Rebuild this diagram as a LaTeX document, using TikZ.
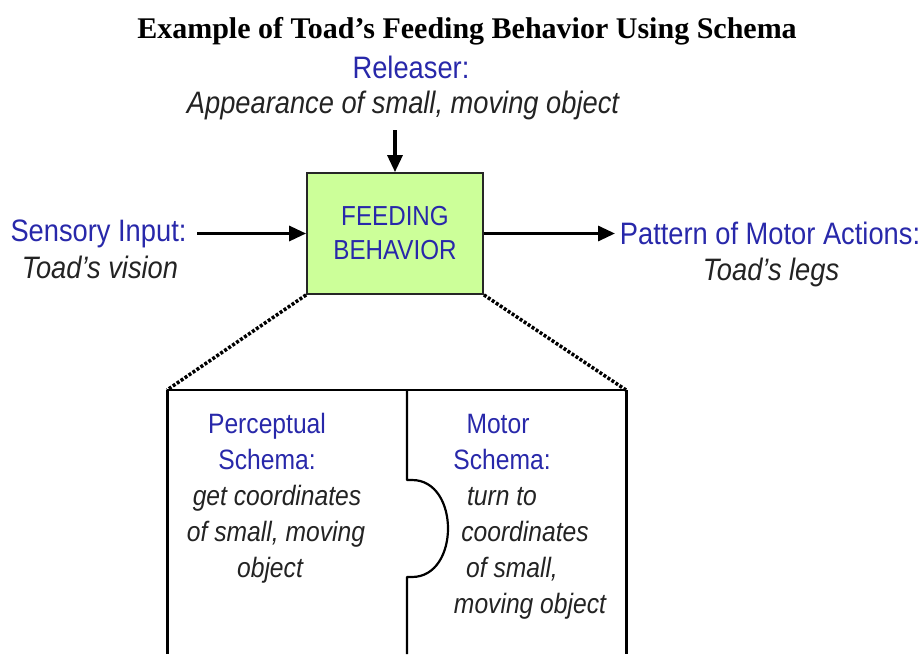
\documentclass[tikz,border=0pt]{standalone}
\usepackage{fontspec}
\setmainfont{Liberation Serif}
\newfontfamily\labelfont[FakeStretch=0.88]{Liberation Sans}
\usetikzlibrary{arrows.meta}
\definecolor{boxgreen}{RGB}{204,255,153}
\definecolor{headblue}{RGB}{40,40,170}
\definecolor{bodygray}{RGB}{35,35,35}
\tikzset{
  heading/.style={anchor=base, inner sep=0pt, text=headblue, font=\labelfont\fontsize{31}{36}\selectfont},
  detail/.style={anchor=base, inner sep=0pt, text=bodygray, font=\labelfont\itshape\fontsize{31}{36}\selectfont},
  innerhead/.style={heading, font=\labelfont\fontsize{28}{34}\selectfont},
  innerdetail/.style={detail, font=\labelfont\itshape\fontsize{28}{34}\selectfont},
  flow/.style={line width=3.2pt, -{Triangle[length=17pt,width=15pt]}},
  zoomline/.style={line width=3.5pt, dash pattern=on 3pt off 1.8pt},
  frame/.style={line width=3pt},
}
\begin{document}
\begin{tikzpicture}[x=1pt,y=-1pt]
\useasboundingbox (0,0) rectangle (922,654);

% title
\node[anchor=base, inner sep=0pt, font=\bfseries\fontsize{30}{36}\selectfont] (title) at (467,38)
  {Example of Toad’s Feeding Behavior Using Schema};

% central behaviour box
\node[draw=black!85, line width=1.8pt, fill=boxgreen, minimum width=176pt, minimum height=121pt,
      inner sep=0pt, align=center, text=headblue, font=\labelfont\fontsize{27.5}{34}\selectfont]
  (feed) at (395,233.5) {FEEDING\\BEHAVIOR};

% releaser
\node[heading] (rel) at (411,78) {Releaser:};
\node[detail] (reldesc) at (403,113) {Appearance of small, moving object};
\coordinate (relend) at (395,130);
\draw[flow] (relend) -- (feed.north);

% sensory input
\node[heading] (sens) at (98.5,241) {Sensory Input:};
\node[detail] (sensdesc) at (100,278) {Toad’s vision};
\coordinate (sensend) at (197,233.5);
\draw[flow] (sensend) -- (feed.west);

% motor output
\node[heading] (motor) at (770,244) {Pattern of Motor Actions:};
\node[detail] (motordesc) at (771,280) {Toad’s legs};
\coordinate (motorend) at (615,233.5);
\draw[flow] (feed.east) -- (motorend);

% expanded view
\coordinate (tl) at (167,390);
\coordinate (tr) at (626,390);
\coordinate (bl) at (167,654);
\coordinate (br) at (626,654);
\coordinate (dtop) at (407,390);
\coordinate (dbot) at (407,654);
\draw[zoomline] (feed.south west) -- (tl);
\draw[zoomline] (feed.south east) -- (tr);
\draw[line width=2pt] (tl) -- (tr);
\draw[frame] (tl) -- (bl);
\draw[frame] (tr) -- (br);

% divider with the joint between the two schemas
\coordinate (k1) at (407,480);
\coordinate (k2) at (412,480);
\coordinate (k3) at (412,577);
\coordinate (k4) at (407,577);
\draw[line width=2.2pt, line join=round] (dtop) -- (k1) -- (k2)
  .. controls (460,480) and (460,577) .. (k3) -- (k4) -- (dbot);

% perceptual schema
\node[innerhead] (p1) at (267,433) {Perceptual};
\node[innerhead] (p2) at (267,469) {Schema:};
\node[innerdetail] (p3) at (277,505) {get coordinates};
\node[innerdetail] (p4) at (276,541) {of small, moving};
\node[innerdetail] (p5) at (270,577) {object};

% motor schema
\node[innerhead] (m1) at (498,433) {Motor};
\node[innerhead] (m2) at (502,469) {Schema:};
\node[innerdetail] (m3) at (502,505) {turn to};
\node[innerdetail] (m4) at (525,541) {coordinates};
\node[innerdetail] (m5) at (512,577) {of small,};
\node[innerdetail] (m6) at (530,613) {moving object};
\end{tikzpicture}
\end{document}
